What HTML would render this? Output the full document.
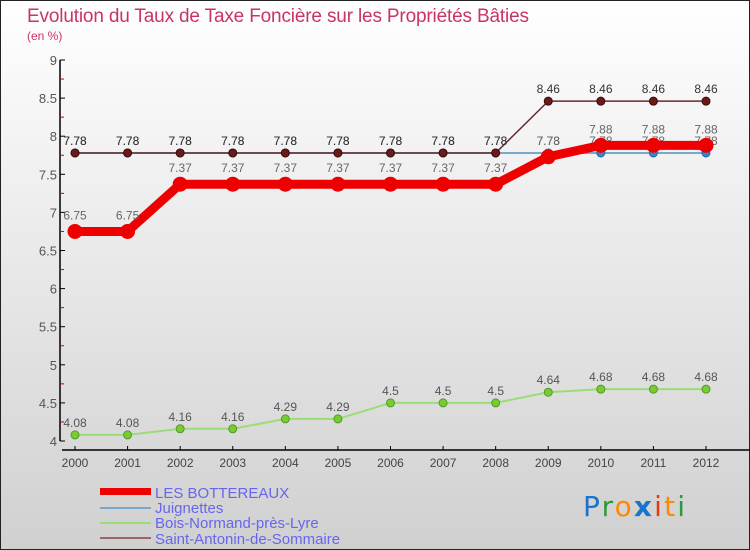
<!DOCTYPE html>
<html><head><meta charset="utf-8"><style>
body{margin:0;}
svg{display:block;font-family:"Liberation Sans",sans-serif;}
</style></head><body>
<svg id="c" width="750" height="550" viewBox="0 0 750 550">
<defs><linearGradient id="bg" x1="0" y1="0" x2="0" y2="1"><stop offset="0" stop-color="#ffffff"/><stop offset="1" stop-color="#d0d0d0"/></linearGradient></defs>
<rect x="0" y="0" width="750" height="550" fill="url(#bg)" stroke="#222" stroke-width="2"/>
<text x="27" y="22" font-size="19" fill="#c8336a" textLength="502">Evolution du Taux de Taxe Foncière sur les Propriétés Bâties</text>
<text x="27" y="40" font-size="12" fill="#c8336a">(en %)</text>
<g id="axes"></g><g id="series"></g>
<g>
<rect x="100" y="488" width="51" height="7" fill="#ee0000"/>
<text x="155" y="498" font-size="15" fill="#6666ee">LES BOTTEREAUX</text>
<rect x="100" y="507" width="51" height="2" fill="#7aa8cc"/>
<text x="155" y="513" font-size="15" fill="#6666ee">Juignettes</text>
<rect x="100" y="522" width="51" height="2" fill="#99dd77"/>
<text x="155" y="528" font-size="15" fill="#6666ee">Bois-Normand-près-Lyre</text>
<rect x="100" y="537" width="51" height="2" fill="#996666"/>
<text x="155" y="544" font-size="15" fill="#6666ee">Saint-Antonin-de-Sommaire</text>
</g>
<text x="583" y="516" font-size="28" font-family="'DejaVu Sans',sans-serif" textLength="102"><tspan fill="#1a73cc">P</tspan><tspan fill="#2a9a3a">r</tspan><tspan fill="#ff8800">o</tspan><tspan fill="#1a73cc" font-weight="bold">x</tspan><tspan fill="#ee3311">i</tspan><tspan fill="#ff8800">t</tspan><tspan fill="#2a9a3a">i</tspan></text>
</svg>
<script>
const years=["2000","2001","2002","2003","2004","2005","2006","2007","2008","2009","2010","2011","2012"];
const yTicks=[4,4.5,5,5.5,6,6.5,7,7.5,8,8.5,9];
const bottereaux=[6.75,6.75,7.37,7.37,7.37,7.37,7.37,7.37,7.37,7.73,7.88,7.88,7.88];
const juignettes=[7.78,7.78,7.78,7.78,7.78,7.78,7.78,7.78,7.78,7.78,7.78,7.78,7.78];
const boisNormand=[4.08,4.08,4.16,4.16,4.29,4.29,4.5,4.5,4.5,4.64,4.68,4.68,4.68];
const saintAntonin=[7.78,7.78,7.78,7.78,7.78,7.78,7.78,7.78,7.78,8.46,8.46,8.46,8.46];
const NS="http://www.w3.org/2000/svg";
const X=i=>75+i*(706-75)/(years.length-1);
const Y=v=>441-(v-4)*(441-60)/5;
function mk(t,a,p){const e=document.createElementNS(NS,t);for(const k in a)e.setAttribute(k,a[k]);p.appendChild(e);return e;}
const ax=document.getElementById('axes');
let yl=mk('line',{x1:60,y1:60,x2:60,y2:441,stroke:'#000','stroke-width':1.5},ax);


let xl=mk('line',{x1:62,y1:450,x2:750,y2:450,stroke:'#000','stroke-width':1.5},ax);


yTicks.forEach((v,k)=>{
 mk('line',{x1:60,y1:Y(v),x2:65,y2:Y(v),stroke:'#000'},ax);
 if(k<yTicks.length-1) mk('line',{x1:60,y1:Y(v+0.25),x2:64,y2:Y(v+0.25),stroke:'#cc0000'},ax);
 const t=mk('text',{x:57,y:Y(v)+5,'text-anchor':'end','font-size':13,fill:'#555'},ax);t.textContent=String(v);
 
 
});
years.forEach((y,i)=>{
 mk('line',{x1:X(i),y1:446,x2:X(i),y2:450,stroke:'#000'},ax);
 const t=mk('text',{x:X(i),y:467,'text-anchor':'middle','font-size':12,fill:'#444'},ax);t.textContent=y;
 
 
});
const sg=document.getElementById('series');
function series(data,name,color,w,dot,dotStroke,r,labColor,labOff){
 const g=mk('g',{},sg);
 
 
 mk('polyline',{points:data.map((v,i)=>X(i)+','+Y(v)).join(' '),fill:'none',stroke:color,'stroke-width':w,'stroke-linejoin':'round'},g);
 data.forEach((v,i)=>{
  const c=mk('circle',{cx:X(i),cy:Y(v),r:r,fill:dot,stroke:dotStroke,'stroke-width':1},g);
  
  
  const t=mk('text',{x:X(i),y:Y(v)-labOff,'text-anchor':'middle','font-size':12,fill:labColor},g);
  t.textContent=String(v);
 });
}
series(juignettes,'series-juignettes','#7aa8cc',2,'#3388cc','#2266aa',4,'#666',8);
series(saintAntonin,'series-saint-antonin','#6b2b2b',1.5,'#6b1a1a','#3a0a0a',4,'#333',8);
series(boisNormand,'series-bois-normand','#99dd77',2,'#77cc33','#559922',4,'#555',8);
series(bottereaux,'series-les-bottereaux','#ee0000',9,'#ee0000','#ee0000',7,'#666',12);
</script>
</body></html>
